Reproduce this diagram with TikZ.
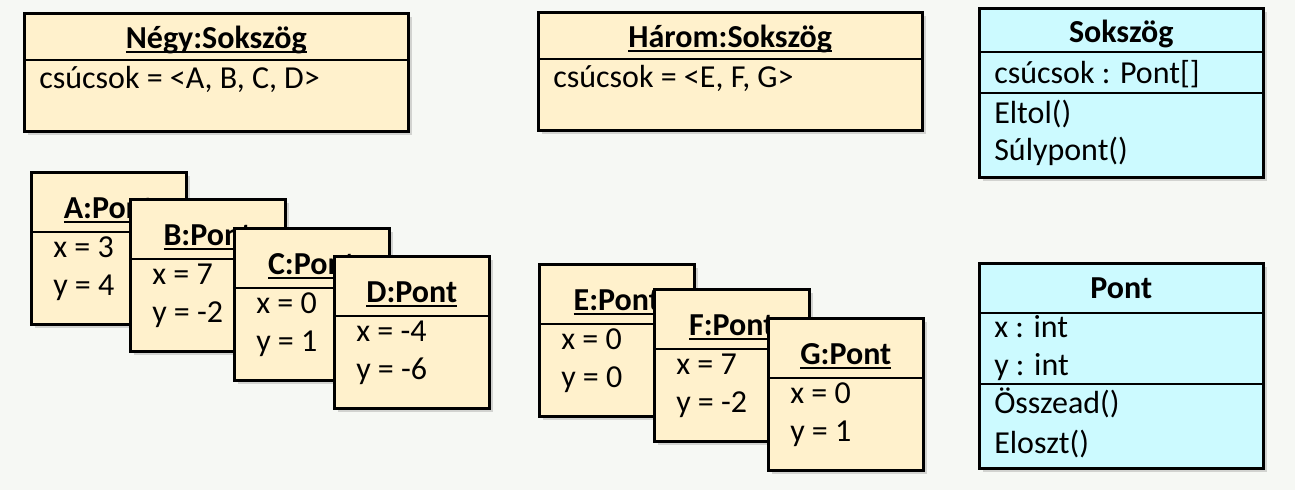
\documentclass[tikz,border=0pt]{standalone}
\usepackage{fontspec}
\setmainfont{Carlito}
\usetikzlibrary{shadows}
\definecolor{hatter}{RGB}{246,248,244}
\definecolor{objsarga}{RGB}{255,241,204}
\definecolor{osztkek}{RGB}{204,250,255}
\newcommand{\alahuz}[1]{\setbox0\hbox{#1}\rlap{\rule[-5pt]{\wd0}{2pt}}\box0}

\begin{document}
\begin{tikzpicture}[x=1pt, y=-1pt, line width=2.5pt,
    every node/.style={font=\fontsize{32}{38}\selectfont, inner sep=0pt},
    doboz/.style={draw, rectangle, anchor=north west,
      drop shadow={shadow xshift=4pt, shadow yshift=-4pt, opacity=0.3}},
    objektum/.style={doboz, fill=objsarga, minimum width=155pt, minimum height=152pt},
    peldany/.style={doboz, fill=objsarga, minimum width=384pt, minimum height=118pt},
    osztaly/.style={doboz, fill=osztkek, minimum width=284pt},
    cim/.style={anchor=base, font=\fontsize{32}{38}\selectfont\bfseries},
    sor/.style={anchor=base west}]
  \useasboundingbox[fill=hatter] (0,0) rectangle (1295,490);
  % Sokszög példányok
  \foreach \n/\nev/\px/\py/\lista in {negy/Négy/23/12/{A, B, C, D}, harom/Három/537/11/{E, F, G}}{
    \node[peldany] (\n) at (\px,\py) {};
    \draw ([shift={(0,48)}]\n.north west) -- ([shift={(0,48)}]\n.north east);
    \node[cim] (\n-cim) at ([shift={(0,36)}]\n.north) {\alahuz{\nev:Sokszög}};
    \node[sor] (\n-csucs) at ([shift={(15,76)}]\n.north west) {csúcsok = <\lista>};
  }
  % Pont példányok
  \foreach \n/\px/\py/\xv/\yv in {A/30/171/3/4, B/129/198/7/-2, C/233/227/0/1, D/333/255/-4/-6,
      E/538/263/0/0, F/653/288/7/-2, G/767/317/0/1}{
    \node[objektum] (\n) at (\px,\py) {};
    \draw ([shift={(0,61)}]\n.north west) -- ([shift={(0,61)}]\n.north east);
    \node[cim] (\n-cim) at ([shift={(0,47)}]\n.north) {\alahuz{\n:Pont}};
    \node[sor] (\n-x) at ([shift={(22,86)}]\n.north west) {x = \xv};
    \node[sor] (\n-y) at ([shift={(22,124)}]\n.north west) {y = \yv};
  }
  % osztályok
  \node[osztaly, minimum height=169pt] (sokszog) at (978,7) {};
  \draw ([shift={(0,45)}]sokszog.north west) -- ([shift={(0,45)}]sokszog.north east);
  \draw ([shift={(0,86)}]sokszog.north west) -- ([shift={(0,86)}]sokszog.north east);
  \node[cim] (sokszog-cim) at ([shift={(0,35)}]sokszog.north) {Sokszög};
  \node[sor] (sokszog-csucs) at ([shift={(15,76)}]sokszog.north west) {csúcsok : Pont[]};
  \node[sor] (sokszog-eltol) at ([shift={(15,116)}]sokszog.north west) {Eltol()};
  \node[sor] (sokszog-suly) at ([shift={(15,153)}]sokszog.north west) {Súlypont()};

  \node[osztaly, minimum height=205pt] (pont) at (978,262) {};
  \draw ([shift={(0,51)}]pont.north west) -- ([shift={(0,51)}]pont.north east);
  \draw ([shift={(0,122)}]pont.north west) -- ([shift={(0,122)}]pont.north east);
  \node[cim] (pont-cim) at ([shift={(0,36)}]pont.north) {Pont};
  \node[sor] (pont-x) at ([shift={(15,75)}]pont.north west) {x : int};
  \node[sor] (pont-y) at ([shift={(15,113)}]pont.north west) {y : int};
  \node[sor] (pont-osszead) at ([shift={(15,151)}]pont.north west) {Összead()};
  \node[sor] (pont-eloszt) at ([shift={(15,191)}]pont.north west) {Eloszt()};
\end{tikzpicture}
\end{document}
